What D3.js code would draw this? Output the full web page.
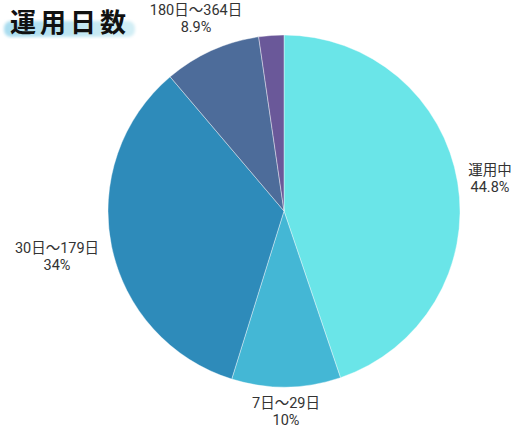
<!DOCTYPE html>
<html><head><meta charset="utf-8">
<script src="https://cdn.jsdelivr.net/npm/d3@7"></script>
<style>body{margin:0;background:#fff}svg{display:block}</style>
</head><body>
<svg id="c" width="516" height="429"></svg>
<script>
const categories = ["運用中","7日〜29日","30日〜179日","180日〜364日","365日以上"];
const values = [44.8, 10, 34, 8.9, 2.3];
const labels = ["44.8%","10%","34%","8.9%",""];
const colors = ["#6ae5e8","#44b7d5","#2e8bba","#4d6c9a","#6a5899"];

const svg = d3.select("#c");
const cx = 284, cy = 211, r = 176;

// title highlight
const defs = svg.append("defs");
const f = defs.append("filter").attr("id","blur");
f.append("feGaussianBlur").attr("stdDeviation",1.5);
const g0 = defs.append("linearGradient").attr("id","hl");
g0.append("stop").attr("offset","0").attr("stop-color","#a8dcef");
g0.append("stop").attr("offset","1").attr("stop-color","#d3eef5");
svg.append("rect").attr("x",4).attr("y",21).attr("width",131).attr("height",16)
  .attr("rx",7).attr("fill","url(#hl)").attr("filter","url(#blur)");
svg.append("text").attr("x",10).attr("y",32).attr("font-family","Noto Sans CJK JP")
  .attr("font-weight","bold").attr("font-size",26).attr("fill","#111").attr("letter-spacing",4)
  .text("運用日数");

const pie = d3.pie().sort(null).value(d=>d)(values);
const arc = d3.arc().innerRadius(0).outerRadius(r);
svg.append("g").attr("transform",`translate(${cx},${cy})`)
  .selectAll("path").data(pie).join("path")
  .attr("d",arc).attr("fill",(d,i)=>colors[i])
  .attr("stroke","#fff").attr("stroke-width",0.4);

const labelPos = [[490,175],[286,408],[57,253],[196,15]];
labelPos.forEach((p,i)=>{
  [categories[i], labels[i]].forEach((s,k)=>{
    svg.append("text").attr("text-anchor","middle")
      .attr("font-family","Roboto, 'Noto Sans CJK JP'").attr("font-size",14.5).attr("fill","#333")
      .attr("x",p[0]).attr("y",p[1]+k*17).text(s);
  });
});
</script>
</body></html>
